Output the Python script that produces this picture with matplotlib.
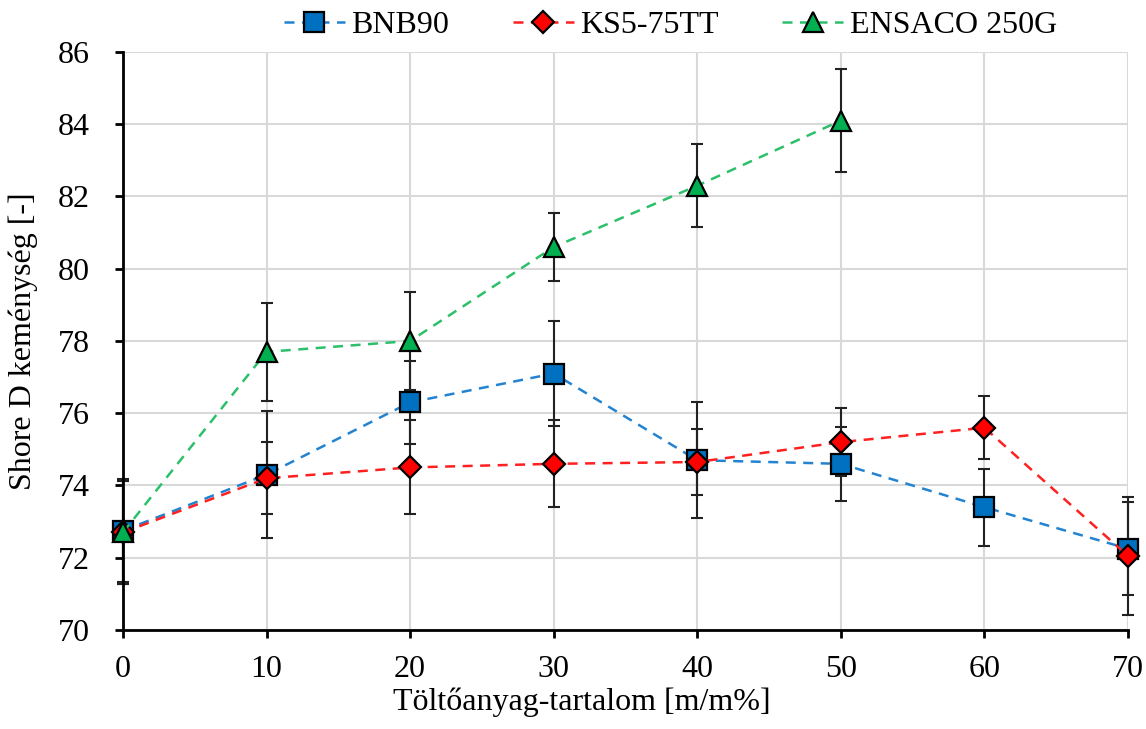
import matplotlib
matplotlib.use("Agg")
import matplotlib.pyplot as plt

plt.rcParams['font.family'] = ['Liberation Serif', 'DejaVu Serif']

x_bnb = [0, 10, 20, 30, 40, 50, 60, 70]
bnb = [72.75, 74.3, 76.3, 77.1, 74.7, 74.6, 73.4, 72.25]
bnb_err = [1.43, 1.75, 1.15, 1.45, 1.6, 1.03, 1.07, 1.28]

x_ks = [0, 10, 20, 30, 40, 50, 60, 70]
ks = [72.7, 74.2, 74.5, 74.6, 74.65, 75.2, 75.6, 72.05]
ks_err = [1.43, 1.0, 1.3, 1.2, 0.9, 0.95, 0.88, 1.63]

x_ens = [0, 10, 20, 30, 40, 50]
ens = [72.7, 77.7, 78.0, 80.6, 82.3, 84.1]
ens_err = [1.43, 1.35, 1.35, 0.95, 1.14, 1.42]

labels = ["BNB90", "KS5-75TT", "ENSACO 250G"]
colors = ["#0070C0", "#FF0000", "#00B050"]
line_colors = ["#2383D0", "#FF2020", "#2CC06A"]
markers = ["s", "D", "^"]
msizes = [15, 11.5, 14]

fig = plt.figure(figsize=(11.46, 7.29), dpi=100)
ax = fig.add_axes([0.1073, 0.1358, 0.877, 0.7929])

series = [(x_bnb, bnb, bnb_err), (x_ks, ks, ks_err), (x_ens, ens, ens_err)]
for i, (xs, ys, es) in enumerate(series):
    ax.errorbar(xs, ys, yerr=es, fmt='none', ecolor='#222222', elinewidth=1.5,
                capsize=4, capthick=1.5, zorder=2, clip_on=False)

handles = []
for i, (xs, ys, es) in enumerate(series):
    h, = ax.plot(xs, ys, linestyle=(0, (4, 3)), color=line_colors[i], linewidth=1.8,
                 marker=markers[i], markersize=msizes[i], markerfacecolor=colors[i],
                 markeredgecolor='black', markeredgewidth=1.6, label=labels[i],
                 zorder=3 + i, clip_on=False)
    handles.append(h)

ax.set_xlim(0, 70)
ax.set_ylim(70, 86)
ax.set_xticks(range(0, 71, 10))
ax.set_yticks(range(70, 87, 2))
ax.grid(True, color='#d9d9d9', linewidth=1.5)
ax.set_axisbelow(True)
for s in ['top', 'right']:
    ax.spines[s].set_visible(False)
for s in ['left', 'bottom']:
    ax.spines[s].set_linewidth(2)
ax.tick_params(axis='both', labelsize=23, width=2, length=6, direction='out')
ax.tick_params(axis='x', pad=12)
ax.tick_params(axis='y', pad=18)
ax.set_xlabel("Töltőanyag-tartalom [m/m%]", fontsize=23)
ax.set_ylabel("Shore D keménység [-]", fontsize=23)
ax.xaxis.set_label_coords(0.457, -0.100)
ax.yaxis.set_label_coords(-0.085, 0.5)

fig.legend(handles=handles, labels=labels, loc='upper center', ncol=3,
           bbox_to_anchor=(0.585, 1.025), frameon=False, fontsize=23,
           handlelength=1.9, columnspacing=2.0, handletextpad=0.2)

fig.savefig("out.png", dpi=100)
